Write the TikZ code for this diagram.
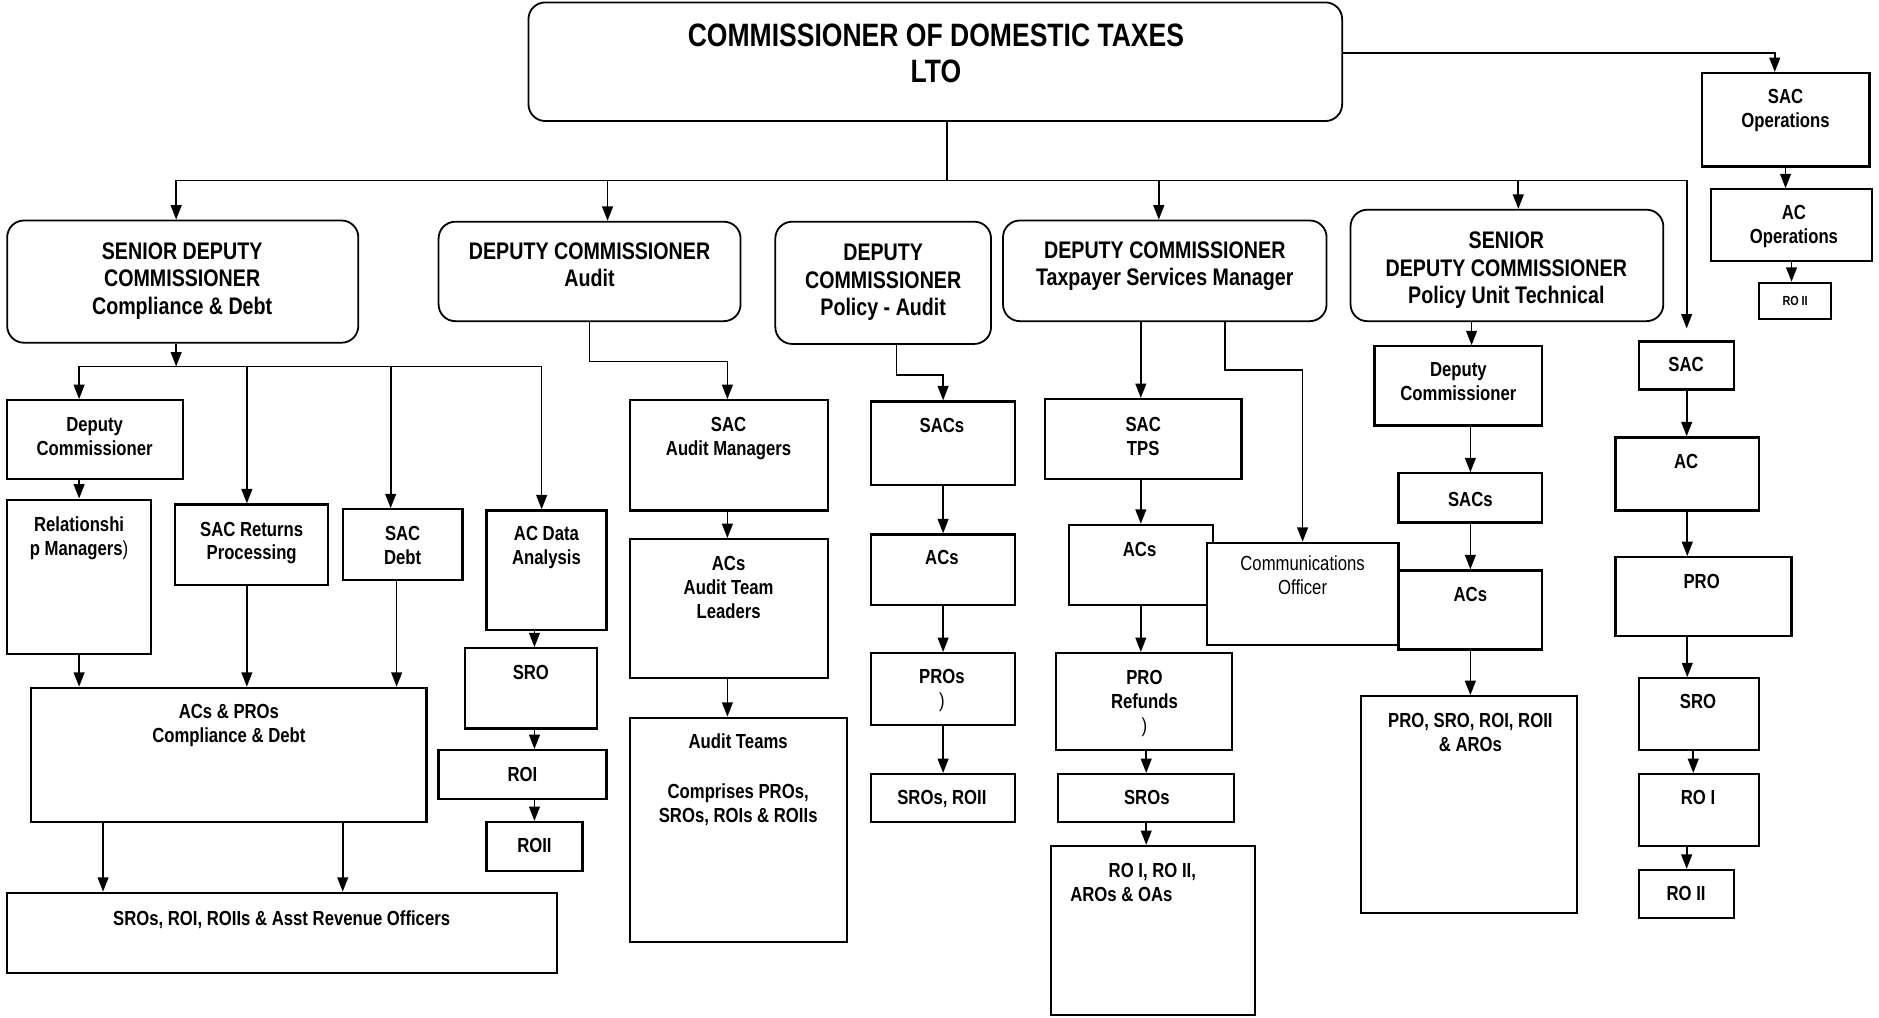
\documentclass[tikz,border=0pt]{standalone}
\usepackage{fontspec}
\newfontfamily\nar{Liberation Sans}[FakeStretch=0.82]
\usetikzlibrary{arrows.meta}
\newcommand\bx[9]{%
  \node[#2, minimum width={(#6-#4)*1pt}, minimum height={(#7-#5)*1pt}] (#1) at ({(#4+#6)/2},{(#5+#7)/2}) {};
  \node[#3] (#1-t) at #8 {\strut#9};}
\tikzset{
  rb/.style={draw, rounded corners=14pt, line width=1.5pt, fill=white, inner sep=0pt},
  sb/.style={draw, line width=1.9pt, fill=white, inner sep=0pt},
  tb/.style={inner sep=0pt, align=center, anchor=north},
  t17/.style={tb, yshift=7.9pt, font=\nar\bfseries\fontsize{17}{20}\selectfont},
  t17r/.style={tb, yshift=7.9pt, font=\nar\fontsize{17}{20}\selectfont},
  t17l/.style={tb, align=left, anchor=north west, yshift=7.9pt, font=\nar\bfseries\fontsize{17}{20}\selectfont},
  t20/.style={tb, yshift=8.94pt, font=\nar\bfseries\fontsize{20}{23}\selectfont},
  t27/.style={tb, yshift=11.33pt, font=\nar\bfseries\fontsize{27}{30}\selectfont},
  t11/.style={tb, yshift=5.16pt, font=\nar\bfseries\fontsize{11}{13}\selectfont},
  ln/.style={line width=1.4pt},
  arr/.style={line width=1.4pt, -{Triangle[length=12pt,width=9pt]}},
}
\begin{document}
\begin{tikzpicture}[x=1pt, y=-1pt]
\fill[white] (0,0) rectangle (1568,849.5);
\useasboundingbox (0,0) rectangle (1568,849.5);

% top level
\bx{top}{rb}{t27}{441}{2}{1120}{101}{(781,29)}{COMMISSIONER OF DOMESTIC TAXES\\LTO}
\bx{sacops}{sb}{t17}{1420}{61}{1560}{139}{(1490,80)}{SAC\\Operations}
\bx{acops}{sb}{t17}{1428}{158}{1562}{218}{(1497,177)}{AC\\Operations}
\bx{roiis}{sb}{t11}{1468}{236}{1528}{266}{(1498,251)}{RO II}

% second level
\bx{sdc1}{rb}{t20}{6}{184}{299}{286}{(152,209)}{SENIOR DEPUTY\\COMMISSIONER\\Compliance \& Debt}
\bx{dca}{rb}{t20}{366}{185}{618}{268}{(492,209)}{DEPUTY COMMISSIONER\\Audit}
\bx{dcpa}{rb}{t20}{647}{185}{827}{287}{(737,210)}{DEPUTY\\COMMISSIONER\\Policy - Audit}
\bx{dctsm}{rb}{t20}{837}{184}{1107}{268}{(972,208)}{DEPUTY COMMISSIONER\\Taxpayer Services Manager}
\bx{sdcput}{rb}{t20}{1127}{175}{1388}{268}{(1257,200)}{SENIOR\\DEPUTY COMMISSIONER\\Policy Unit Technical}

% column 1
\bx{dc1}{sb}{t17}{6}{334}{153}{400}{(79,354)}{Deputy\\Commissioner}
\bx{rel}{sb}{t17}{6}{417}{126}{546}{(66,437)}{Relationshi\\p Managers{\mdseries)}}
\bx{sacrp}{sb}{t17}{146}{421}{274}{488}{(210,441)}{SAC Returns\\Processing}
\bx{sacd}{sb}{t17}{286}{425}{386}{484}{(336,445)}{SAC\\Debt}
\bx{acda}{sb}{t17}{406}{426}{506}{526}{(456,445)}{AC Data\\Analysis}
\bx{acp}{sb}{t17}{26}{574}{356}{686}{(191,593)}{ACs \& PROs\\Compliance \& Debt}
\bx{sros1}{sb}{t17}{6}{745}{465}{812}{(235,766)}{SROs, ROI, ROIIs \& Asst Revenue Officers}
\bx{sro1}{sb}{t17}{388}{541}{498}{608}{(443,561)}{SRO}
\bx{roi1}{sb}{t17}{366}{626}{506}{667}{(436,646)}{ROI}
\bx{roii1}{sb}{t17}{406}{686}{486}{727}{(446,705)}{ROII}

% column 2
\bx{sacam}{sb}{t17}{526}{334}{691}{426}{(608,354)}{SAC\\Audit Managers}
\bx{acatl}{sb}{t17}{526}{450}{691}{566}{(608,470)}{ACs\\Audit Team\\Leaders}
\bx{at}{sb}{t17}{526}{599}{707}{786}{(616,618)}{Audit Teams\\[22pt]Comprises PROs,\\SROs, ROIs \& ROIIs}

% column 3
\bx{sacs3}{sb}{t17}{727}{335}{847}{405}{(786,355)}{SACs}
\bx{acs3}{sb}{t17}{727}{446}{847}{505}{(786,465)}{ACs}
\bx{pros3}{sb}{t17}{727}{545}{847}{605}{(786,564)}{PROs\\{\mdseries)}}
\bx{sros3}{sb}{t17}{727}{646}{847}{686}{(786,665)}{SROs, ROII}

% column 4
\bx{sactps}{sb}{t17}{872}{333}{1036}{400}{(954,354)}{SAC\\TPS}
\bx{acs4}{sb}{t17}{892}{438}{1012}{505}{(951,458)}{ACs}
\bx{comm}{sb}{t17r}{1007}{453}{1167}{538}{(1087,470)}{Communications\\Officer}
\bx{pro4}{sb}{t17}{881}{545}{1028}{626}{(955,565)}{PRO\\Refunds\\{\mdseries)}}
\bx{sros4}{sb}{t17}{883}{646}{1030}{686}{(957,665)}{SROs}
\bx{ro4}{sb}{t17l}{877}{706}{1047}{847}{(893,726)}{\hspace*{32pt}RO I, RO II,\\AROs \& OAs}

% column 5
\bx{dc5}{sb}{t17}{1147}{289}{1287}{355}{(1217,308)}{Deputy\\Commissioner}
\bx{sacs5}{sb}{t17}{1167}{395}{1287}{436}{(1227,416)}{SACs}
\bx{acs5}{sb}{t17}{1167}{476}{1287}{542}{(1227,496)}{ACs}
\bx{pro5}{sb}{t17}{1136}{581}{1316}{762}{(1227,601)}{PRO, SRO, ROI, ROII\\\& AROs}

% column 6
\bx{sac6}{sb}{t17}{1368}{285}{1447}{325}{(1407,304)}{SAC}
\bx{ac6}{sb}{t17}{1348}{365}{1468}{426}{(1407,385)}{AC}
\bx{pro6}{sb}{t17}{1348}{465}{1495}{531}{(1420,485)}{PRO}
\bx{sro6}{sb}{t17}{1368}{566}{1468}{626}{(1417,585)}{SRO}
\bx{roi6}{sb}{t17}{1368}{646}{1468}{706}{(1417,665)}{RO I}
\bx{roii6}{sb}{t17}{1368}{726}{1447}{766}{(1407,745)}{RO II}

% main bus
\draw[ln] ([xshift=9.5pt]top.south) -- ++(0,49) coordinate (mb);
\draw[arr] (mb) -| ([xshift=-5.5pt]sdc1.north);
\draw[arr] (mb) -| ([xshift=15pt]dca.north);
\draw[arr] (mb) -| ([xshift=-5pt]dctsm.north);
\draw[arr] (mb) -| ([xshift=9.5pt]sdcput.north);
\draw[arr, shorten >=10pt] (mb) -| (sac6.north);
\draw[arr] ([yshift=7.5pt]top.east) -| ([xshift=-9pt]sacops.north);
\draw[arr] (sacops.south) -- (sacops.south |- acops.north);
\draw[arr] (acops.south) -- (acops.south |- roiis.north);

% column 1
\draw[arr] ([xshift=-5.5pt]sdc1.south) -- ++(0,19) coordinate (b1);
\draw[arr] (b1) -| ([xshift=-13.5pt]dc1.north);
\draw[arr] (b1) -| ([xshift=-4pt]sacrp.north);
\draw[arr] (b1) -| ([xshift=-10pt]sacd.north);
\draw[arr] (b1) -| ([xshift=-4pt]acda.north);
\draw[arr] (rel.north |- dc1.south) -- (rel.north);
\draw[arr] (rel.south) -- (rel.south |- acp.north);
\draw[arr] ([xshift=-4pt]sacrp.south) -- ([xshift=-4pt]sacrp.south |- acp.north);
\draw[arr] ([xshift=-5pt]sacd.south) -- ([xshift=-5pt]sacd.south |- acp.north);
\draw[arr] ([xshift=-105pt]acp.south) -- ([xshift=-105pt]acp.south |- sros1.north);
\draw[arr] ([xshift=95pt]acp.south) -- ([xshift=95pt]acp.south |- sros1.north);
\draw[arr] ([xshift=3pt]sro1.north |- acda.south) -- ([xshift=3pt]sro1.north);
\draw[arr] ([xshift=10pt]roi1.north |- sro1.south) -- ([xshift=10pt]roi1.north);
\draw[arr] (roii1.north |- roi1.south) -- (roii1.north);

% column 2
\draw[arr] (dca.south) -- ++(0,33) -| ([xshift=-1.5pt]sacam.north);
\draw[arr] ([xshift=-1.5pt]sacam.south) -- ([xshift=-1.5pt]acatl.north);
\draw[arr] ([xshift=-1.5pt]acatl.south) -- ([xshift=-1.5pt]acatl.south |- at.north);

% column 3
\draw[arr] ([xshift=11pt]dcpa.south) -- ++(0,25) -| (sacs3.north);
\draw[arr] (sacs3.south) -- (acs3.north);
\draw[arr] (acs3.south) -- (pros3.north);
\draw[arr] (pros3.south) -- (sros3.north);

% column 4
\draw[arr] ([xshift=-20pt]dctsm.south) -- ([xshift=-20pt]dctsm.south |- sactps.north);
\draw[arr] ([xshift=50pt]dctsm.south) -- ++(0,40) -| (comm.north);
\draw[arr] (acs4.north |- sactps.south) -- (acs4.north);
\draw[arr] (acs4.south) -- (acs4.south |- pro4.north);
\draw[arr] ([xshift=2pt]pro4.south) -- ([xshift=2pt]pro4.south |- sros4.north);
\draw[arr] (sros4.south) -- (sros4.south |- ro4.north);

% column 5
\draw[arr] ([xshift=11pt]dc5.north |- sdcput.south) -- ([xshift=11pt]dc5.north);
\draw[arr] (sacs5.north |- dc5.south) -- (sacs5.north);
\draw[arr] (sacs5.south) -- (acs5.north);
\draw[arr] (acs5.south) -- (acs5.south |- pro5.north);

% column 6
\draw[arr] (sac6.south) -- (sac6.south |- ac6.north);
\draw[arr] (ac6.south) -- (ac6.south |- pro6.north);
\draw[arr] ([xshift=-10pt]sro6.north |- pro6.south) -- ([xshift=-10pt]sro6.north);
\draw[arr] ([xshift=-5pt]roi6.north |- sro6.south) -- ([xshift=-5pt]roi6.north);
\draw[arr] (roii6.north |- roi6.south) -- (roii6.north);
\end{tikzpicture}
\end{document}
